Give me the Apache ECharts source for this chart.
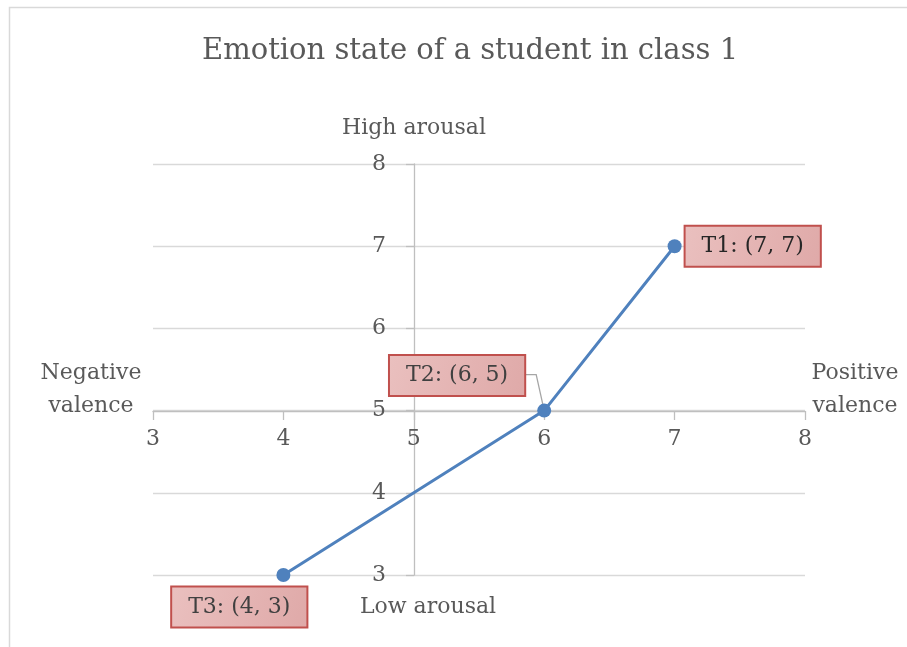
<!DOCTYPE html>
<html>
<head>
<meta charset="utf-8">
<script src="https://cdn.jsdelivr.net/npm/echarts@6/dist/echarts.min.js"></script>
<style>html,body{margin:0;padding:0;background:#fff}#c{width:907px;height:647px}</style>
</head>
<body>
<div id="c"></div>
<script>
// Data
const titleText = 'Emotion state of a student in class 1';
const pointNames = ['T1', 'T2', 'T3'];
const valence = [7, 6, 4];
const arousal = [7, 5, 3];
const axisTicks = [3, 4, 5, 6, 7, 8];
const axisNames = { top: 'High arousal', bottom: 'Low arousal', left: 'Negative\nvalence', right: 'Positive\nvalence' };

const FONT = '"DejaVu Serif", "Liberation Serif", serif';
const FS = 22;
const chart = echarts.init(document.getElementById('c'), null, { renderer: 'canvas' });

const labelPos = [
  { position: 'right', distance: 4, offset: [0, 0], color: '#262626' },
  { position: 'left', distance: 0, offset: [-13, -35] },
  { position: 'left', distance: 0, offset: [30, 32] }
];

const data = pointNames.map((n, i) => ({
  name: n,
  value: [valence[i], arousal[i]],
  label: Object.assign({}, labelPos[i])
}));

const option = {
  backgroundColor: '#fff',
  animation: false,
  title: {
    text: titleText, left: 197, top: 32,
    textStyle: { fontFamily: FONT, fontSize: 29, fontWeight: 'normal', color: '#595959' }
  },
  grid: { left: 153, right: 102, top: 164, bottom: 72 },
  xAxis: {
    type: 'value', min: axisTicks[0], max: axisTicks[axisTicks.length - 1], interval: 1,
    offset: -164,
    axisLine: { show: true, onZero: false, lineStyle: { color: '#bfbfbf', width: 1.3 } },
    axisTick: { show: true, inside: false, length: 9, lineStyle: { color: '#bfbfbf', width: 1.3 } },
    axisLabel: { color: '#595959', fontFamily: FONT, fontSize: FS, margin: 17 },
    splitLine: { show: false }
  },
  yAxis: {
    type: 'value', min: axisTicks[0], max: axisTicks[axisTicks.length - 1], interval: 1,
    offset: -261,
    axisLine: { show: true, onZero: false, lineStyle: { color: '#bfbfbf', width: 1.3 } },
    axisTick: { show: true, inside: false, length: 8, lineStyle: { color: '#bfbfbf', width: 1.3 } },
    axisLabel: { color: '#595959', fontFamily: FONT, fontSize: FS, margin: 28 },
    splitLine: { show: true, lineStyle: { color: '#d9d9d9', width: 1.3 } }
  },
  series: [{
    type: 'line',
    data: data,
    symbol: 'circle',
    symbolSize: 14,
    lineStyle: { color: '#4f81bd', width: 3 },
    itemStyle: { color: '#4f81bd' },
    label: {
      show: true,
      formatter: p => p.name + ': (' + p.value[0] + ', ' + p.value[1] + ')',
      fontFamily: FONT, fontSize: FS, color: '#404040',
      backgroundColor: {
        type: 'linear', x: 0, y: 0, x2: 1, y2: 1,
        colorStops: [{ offset: 0, color: '#eac0bf' }, { offset: 1, color: '#dfa9a8' }]
      },
      borderColor: '#c0504d', borderWidth: 2,
      padding: [9, 16, 8, 16]
    },
    labelLine: { show: false },
    emphasis: { disabled: true }
  }],
  graphic: [
    { type: 'rect', shape: { x: 9.5, y: 7.5, width: 1000, height: 1000 }, style: { fill: 'none', stroke: '#d9d9d9', lineWidth: 1.5 }, silent: true },
    { type: 'text', x: 414, y: 128, style: { text: axisNames.top, font: FS + 'px ' + FONT, fill: '#595959', align: 'center', verticalAlign: 'middle' } },
    { type: 'text', x: 428, y: 607, style: { text: axisNames.bottom, font: FS + 'px ' + FONT, fill: '#595959', align: 'center', verticalAlign: 'middle' } },
    { type: 'text', x: 91, y: 390, style: { text: axisNames.left, font: FS + 'px ' + FONT, fill: '#595959', align: 'center', verticalAlign: 'middle', lineHeight: 33 } },
    { type: 'text', x: 855, y: 390, style: { text: axisNames.right, font: FS + 'px ' + FONT, fill: '#595959', align: 'center', verticalAlign: 'middle', lineHeight: 33 } }
  ]
};
chart.setOption(option);

// Leader line for the T2 label, anchored to the data point via the axes
const p2 = chart.convertToPixel({ seriesIndex: 0 }, data[1].value);
chart.setOption({
  graphic: option.graphic.concat([{
    type: 'polyline', silent: true, z: 1,
    shape: { points: [[p2[0] - 19, p2[1] - 36], [p2[0] - 8, p2[1] - 36], [p2[0], p2[1]]] },
    style: { stroke: '#a6a6a6', lineWidth: 1.3, fill: 'none' }
  }])
});
</script>
</body>
</html>
